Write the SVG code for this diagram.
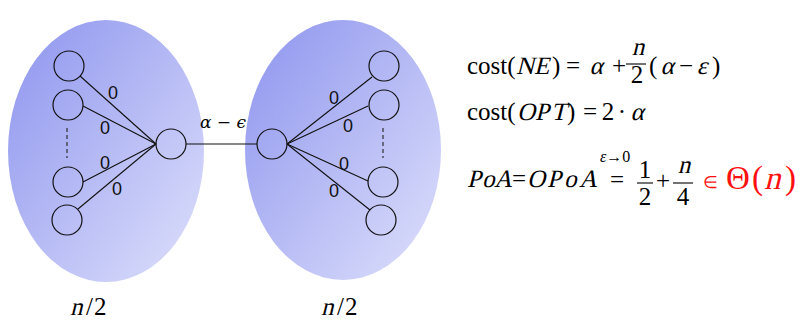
<svg xmlns="http://www.w3.org/2000/svg" width="800" height="321" viewBox="0 0 800 321">
<defs>
<linearGradient id="blob" x1="0" y1="0" x2="1" y2="1">
<stop offset="0" stop-color="#8d94ee"/>
<stop offset="1" stop-color="#dfe1fb"/>
</linearGradient>
<style>
.cl{fill:url(#blob);stroke:none}
.nd{fill:none;stroke:#111;stroke-width:1.2}
.ed{stroke:#111;stroke-width:1.1;fill:none}
.dash{stroke:#222;stroke-width:1.1;stroke-dasharray:4 3}
.w{font-family:"Liberation Sans",Arial,sans-serif;font-size:18px;fill:#111;text-anchor:middle}
.m{font-family:"Liberation Serif","Times New Roman",serif;font-size:25px;fill:#000}
.c{text-anchor:middle}
.red{fill:#ff1010}
.big{font-size:33px}
.sm{font-size:16px}
.lab{font-family:"Liberation Serif","Times New Roman",serif;font-size:25px;fill:#000}
</style>
</defs>
<rect width="800" height="321" fill="#fff"/>
<g id="cluster-left"><ellipse class="cl" cx="106" cy="151" rx="98" ry="131"/></g>
<g id="cluster-right"><ellipse class="cl" cx="343" cy="150" rx="98" ry="130"/></g>
<g id="connectors">
<line class="ed" x1="80" y1="76" x2="156" y2="144"/>
<line class="ed" x1="83" y1="106" x2="156" y2="144"/>
<line class="ed" x1="83" y1="182" x2="156" y2="144"/>
<line class="ed" x1="78" y1="209" x2="156" y2="144"/>
<line class="ed" x1="186" y1="144" x2="257" y2="144"/>
<line class="ed" x1="287" y1="144" x2="372" y2="77"/>
<line class="ed" x1="287" y1="144" x2="368" y2="106"/>
<line class="ed" x1="287" y1="144" x2="368" y2="181"/>
<line class="ed" x1="287" y1="144" x2="370" y2="210"/>
<line class="dash" x1="67" y1="128" x2="67" y2="158"/>
<line class="dash" x1="383" y1="128" x2="383" y2="158"/>
<text class="w" x="113" y="99">0</text>
<text class="w" x="105" y="134">0</text>
<text class="w" x="105" y="169">0</text>
<text class="w" x="117" y="195">0</text>
<text class="w" x="334" y="104">0</text>
<text class="w" x="348" y="132">0</text>
<text class="w" x="344" y="170">0</text>
<text class="w" x="334" y="197">0</text>
<text x="223" y="128" font-family="'DejaVu Serif','Liberation Serif',serif" font-size="17" text-anchor="middle" font-style="italic">α <tspan font-style="normal">−</tspan> ϵ</text>
</g>
<g id="node-l1"><circle class="nd" cx="69" cy="66" r="15"/></g>
<g id="node-l2"><circle class="nd" cx="68" cy="105" r="15"/></g>
<g id="node-l3"><circle class="nd" cx="68" cy="182" r="15"/></g>
<g id="node-l4"><circle class="nd" cx="67" cy="220" r="15"/></g>
<g id="node-lhub"><circle class="nd" cx="171" cy="144" r="15"/></g>
<g id="node-rhub"><circle class="nd" cx="272" cy="144" r="15"/></g>
<g id="node-r1"><circle class="nd" cx="384" cy="66" r="15"/></g>
<g id="node-r2"><circle class="nd" cx="384" cy="105" r="15"/></g>
<g id="node-r3"><circle class="nd" cx="383" cy="182" r="15"/></g>
<g id="node-r4"><circle class="nd" cx="381" cy="220" r="15"/></g>
<g id="labels">
<text class="lab" transform="translate(70,315) skewX(-14)">n</text>
<text class="lab" x="86 94" y="315">/2</text>
<text class="lab" transform="translate(321,315) skewX(-14)">n</text>
<text class="lab" x="337 345" y="315">/2</text>
</g>
<g id="equations">
<text class="m" x="467" y="74">cost(</text>
<text class="m" transform="translate(516,74) skewX(-14)">NE</text>
<text class="m" x="552" y="74">)</text>
<text class="m c" x="573" y="74">=</text>
<text class="m c" transform="translate(596,74) skewX(-14)">α</text>
<text class="m c" x="619" y="74">+</text>
<text class="m c" transform="translate(638,55) skewX(-14)">n</text>
<line x1="626" y1="64" x2="646" y2="64" stroke="#000" stroke-width="1.1"/>
<text class="m c" x="637" y="83">2</text>
<text class="m" x="649" y="74">(</text>
<text class="m c" transform="translate(667,74) skewX(-14)">α</text>
<text class="m c" x="686" y="74">−</text>
<text class="m c" transform="translate(702,74) skewX(-14)">ε</text>
<text class="m" x="712" y="74">)</text>

<text class="m" x="467" y="120">cost(</text>
<text class="m" transform="translate(517,120) skewX(-14)" x="0 18 34">OPT</text>
<text class="m" x="567" y="120">)</text>
<text class="m c" x="590" y="120">=</text>
<text class="m c" x="608" y="120">2</text>
<text class="m c" x="622" y="120">·</text>
<text class="m c" transform="translate(637,120) skewX(-14)">α</text>

<text class="m" transform="translate(467,187) skewX(-14)" x="0 15 27">PoA</text>
<text class="m c" x="519" y="187">=</text>
<text class="m" transform="translate(527,187) skewX(-14)" x="0 20 37 52">OPoA</text>
<text class="m sm" x="600" y="162"><tspan font-style="italic">ε</tspan>→0</text>
<text class="m c" x="617" y="188">=</text>
<text class="m c" x="645" y="178">1</text>
<line x1="637" y1="183" x2="653" y2="183" stroke="#000" stroke-width="1.1"/>
<text class="m c" x="645" y="205">2</text>
<text class="m c" x="663" y="189">+</text>
<text class="m c" transform="translate(684,173) skewX(-14)">n</text>
<line x1="673" y1="183" x2="693" y2="183" stroke="#000" stroke-width="1.1"/>
<text class="m c" x="683" y="205">4</text>
<text class="m c red" x="710" y="188" style="font-size:17px">∈</text>
<text class="m red big" x="726" y="189">Θ</text>
<text class="m red big" x="752" y="189">(</text>
<text class="m red big" transform="translate(764,189) skewX(-14)">n</text>
<text class="m red big" x="785" y="189">)</text>
</g>
</svg>
